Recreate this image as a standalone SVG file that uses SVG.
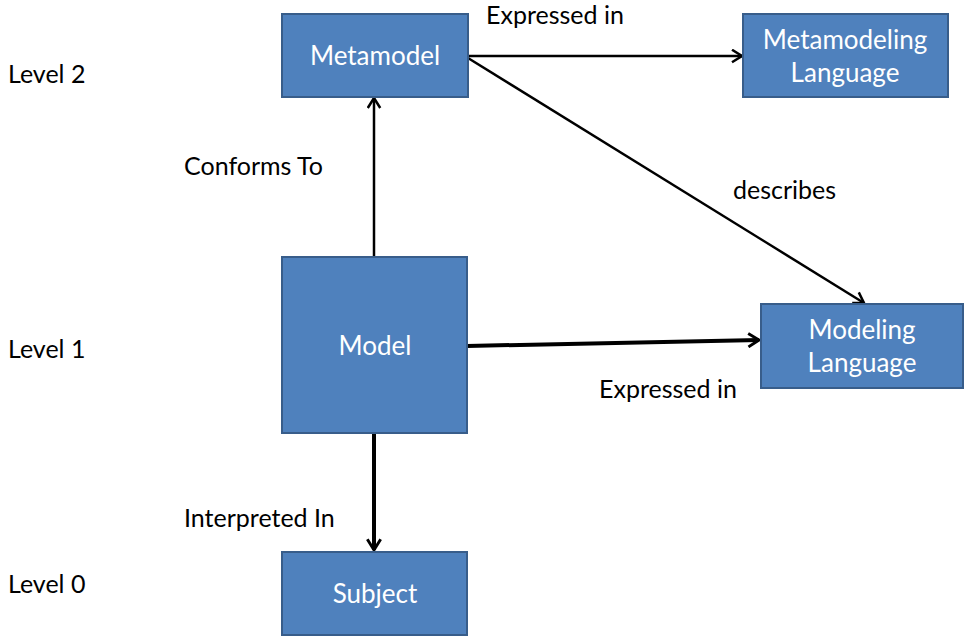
<svg xmlns="http://www.w3.org/2000/svg" width="966" height="637" viewBox="0 0 966 637">
<defs>
<style>
.box{fill:#4F81BD;stroke:#385D8A;stroke-width:2}
.bt{fill:#fff;font-family:Lato,"Open Sans",sans-serif;font-size:26px;text-anchor:middle}
.lb{fill:#000;font-family:Lato,"Open Sans",sans-serif;font-size:25px}
.c{stroke:#000;fill:none}
</style>
<marker id="ah" viewBox="0 0 12 12" refX="10" refY="6" markerWidth="6" markerHeight="6" markerUnits="strokeWidth" orient="auto">
<path d="M2,1 L10,6 L2,11" fill="none" stroke="#000" stroke-width="2"/>
</marker>
<marker id="ah2" viewBox="0 0 12 12" refX="10" refY="6" markerWidth="4" markerHeight="4" markerUnits="strokeWidth" orient="auto">
<path d="M2,1 L10,6 L2,11" fill="none" stroke="#000" stroke-width="2.2"/>
</marker>
</defs>
<rect width="966" height="637" fill="#fff"/>
<g id="connectors">
<line class="c" x1="374" y1="257" x2="374" y2="98" stroke-width="2.5" marker-end="url(#ah)"/>
<line class="c" x1="468" y1="56" x2="742" y2="56" stroke-width="2.5" marker-end="url(#ah)"/>
<line class="c" x1="468" y1="58" x2="864" y2="303" stroke-width="2.5" marker-end="url(#ah)"/>
<line class="c" x1="467" y1="346" x2="759" y2="340" stroke-width="4" marker-end="url(#ah2)"/>
<line class="c" x1="374" y1="433" x2="374" y2="550" stroke-width="4" marker-end="url(#ah2)"/>
</g>
<g id="labels">
<text class="lb" x="8" y="83">Level 2</text>
<text class="lb" x="8" y="358">Level 1</text>
<text class="lb" x="8" y="593">Level 0</text>
<text class="lb" x="184" y="175">Conforms To</text>
<text class="lb" x="486" y="24">Expressed in</text>
<text class="lb" x="733" y="199">describes</text>
<text class="lb" x="599" y="398">Expressed in</text>
<text class="lb" x="184" y="527">Interpreted In</text>
</g>
<g id="metamodel"><rect class="box" x="282" y="14" width="186" height="83"/><text class="bt" x="375" y="65">Metamodel</text></g>
<g id="metamodeling-language"><rect class="box" x="743" y="14" width="205" height="83"/><text class="bt" x="845" y="49">Metamodeling</text><text class="bt" x="845" y="82">Language</text></g>
<g id="model"><rect class="box" x="282" y="257" width="185" height="176"/><text class="bt" x="375" y="355">Model</text></g>
<g id="modeling-language"><rect class="box" x="761" y="304" width="202" height="84"/><text class="bt" x="862" y="339">Modeling</text><text class="bt" x="862" y="372">Language</text></g>
<g id="subject"><rect class="box" x="282" y="552" width="185" height="83"/><text class="bt" x="375" y="603">Subject</text></g>
</svg>
